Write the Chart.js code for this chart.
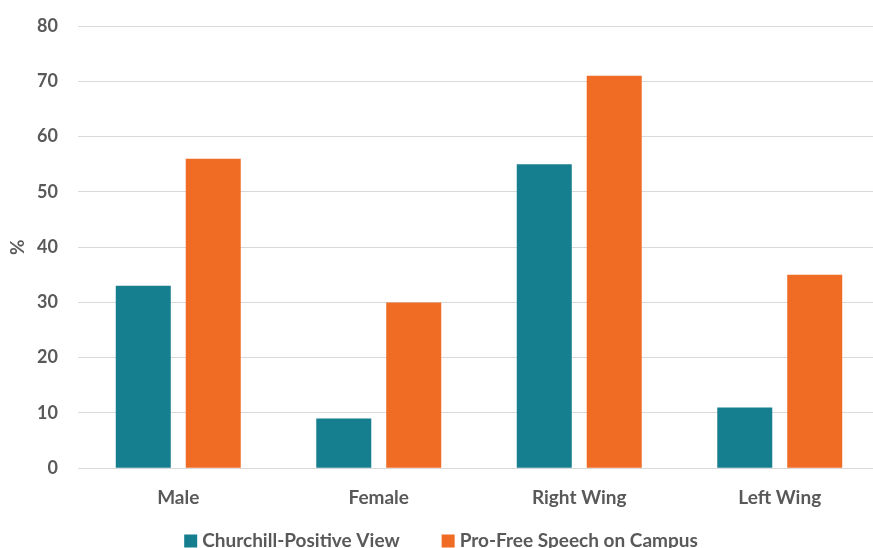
<!DOCTYPE html>
<html>
<head>
<meta charset="utf-8">
<script src="https://cdn.jsdelivr.net/npm/chart.js@4/dist/chart.umd.min.js"></script>
<style>
  html, body { margin: 0; padding: 0; background: #fff; overflow: hidden; }
  #wrap { width: 880px; height: 548px; position: relative; }
</style>
</head>
<body>
<div id="wrap"><canvas id="myChart"></canvas></div>
<script>
// data
var categories = ['Male', 'Female', 'Right Wing', 'Left Wing'];
var churchill = [33, 9, 55, 11];
var freeSpeech = [56, 30, 71, 35];
var seriesNames = ['Churchill-Positive View', 'Pro-Free Speech on Campus'];

var grey = '#595959';
var tickFont = { family: 'Lato', size: 18, weight: 'bold' };
var font = { family: 'Lato', size: 19, weight: 'bold' };

// legend drawn by hand so the gap between items can be wider than the row height
var bottomLegend = {
  id: 'bottomLegend',
  afterDraw: function(chart) {
    var c = chart.ctx;
    c.save();
    c.font = 'bold 19px Lato';
    c.textBaseline = 'middle';
    var box = 13, gap = 5, spacing = 42;
    var items = chart.data.datasets.map(function(ds) {
      return { text: ds.label, color: ds.backgroundColor, w: box + gap + c.measureText(ds.label).width };
    });
    var total = items.reduce(function(s, it) { return s + it.w; }, 0) + spacing * (items.length - 1);
    var x = chart.width / 2 + 1 - total / 2;
    var y = 541;
    items.forEach(function(it) {
      c.fillStyle = it.color;
      c.fillRect(x, y - box / 2, box, box);
      c.fillStyle = grey;
      c.fillText(it.text, x + box + gap, y);
      x += it.w + spacing;
    });
    c.restore();
  }
};

const ctx = document.getElementById('myChart');

var chart = new Chart(ctx, {
  type: 'bar',
  data: {
    labels: categories,
    datasets: [{
      label: seriesNames[0],
      data: churchill,
      backgroundColor: '#167F8F'
    }, {
      label: seriesNames[1],
      data: freeSpeech,
      backgroundColor: '#F06B24'
    }]
  },
  options: {
    responsive: true,
    maintainAspectRatio: false,
    animation: false,
    categoryPercentage: 0.698,
    barPercentage: 0.786,
    layout: { padding: { top: 26, left: 6, right: 0, bottom: 21 } },
    plugins: {
      tooltip: { enabled: false },
      legend: { display: false }
    },
    scales: {
      x: {
        grid: { display: false, drawTicks: false },
        border: { color: '#d9d9d9', width: 1 },
        ticks: { color: grey, font: font, padding: 18 }
      },
      y: {
        min: 0,
        max: 80,
        ticks: { stepSize: 10, color: grey, font: tickFont, padding: 20 },
        grid: { color: '#d9d9d9', lineWidth: 1, drawTicks: false },
        border: { display: false },
        title: { display: true, text: '%', color: grey, font: font, padding: 0 },
        afterFit: function(scale) {
          scale.width = 72;
          scale.paddingTop = 0;
        }
      }
    }
  },
  plugins: [bottomLegend]
});
</script>
</body>
</html>
